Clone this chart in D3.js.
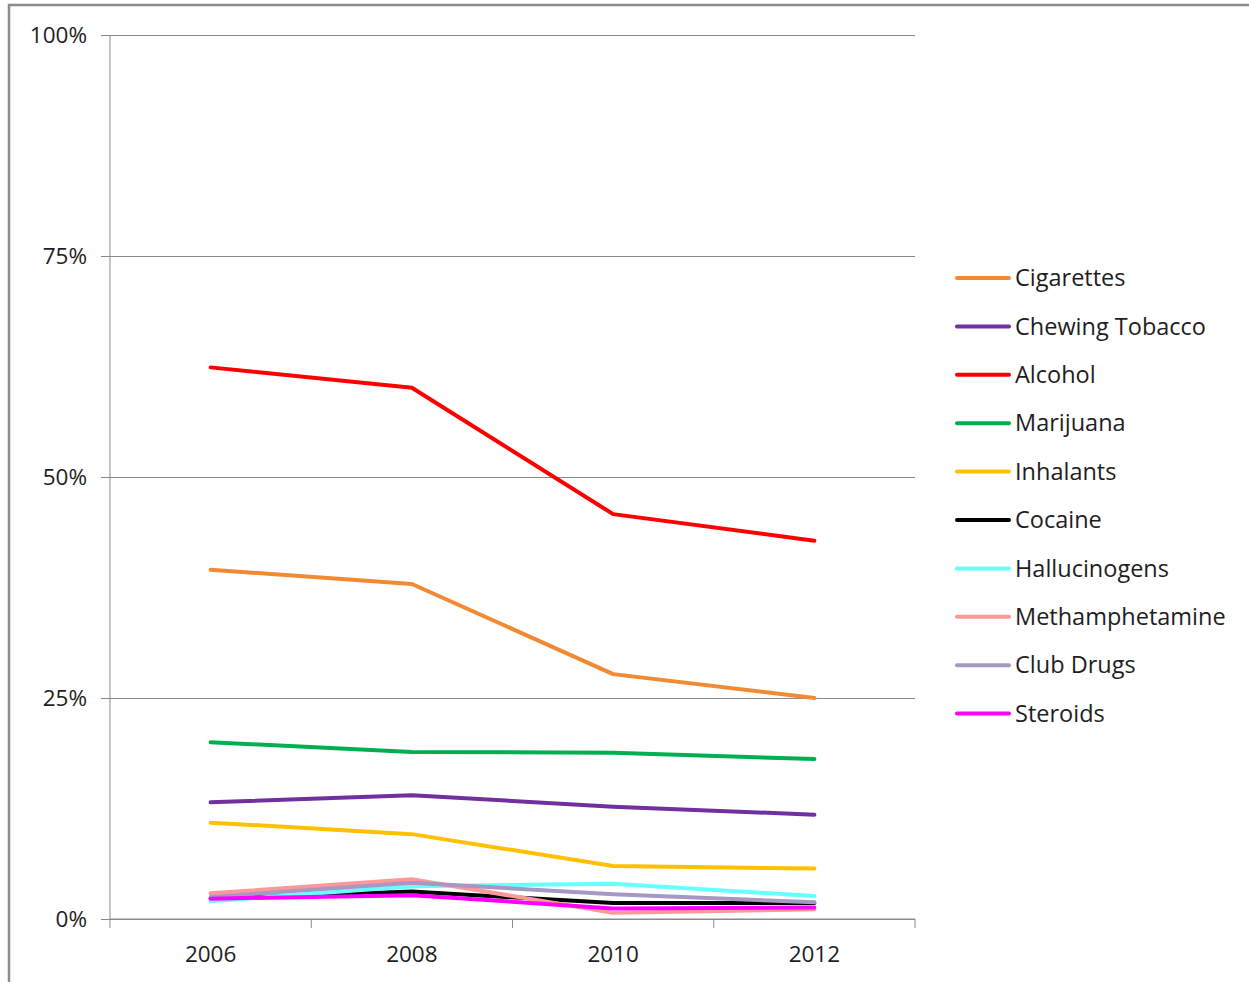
<!DOCTYPE html>
<html>
<head>
<meta charset="utf-8">
<script src="https://cdn.jsdelivr.net/npm/d3@7"></script>
<style>
  html, body { margin: 0; padding: 0; background: #fff; }
  svg { display: block; }
  text { font-family: "Open Sans", Lato, sans-serif; fill: #1e1e1e; }
</style>
</head>
<body>
<svg id="chart" width="1249" height="982"></svg>
<script>
// Survey years
const years = ["2006", "2008", "2010", "2012"];

// Share of respondents reporting use, per substance (percent)
const cigarettes     = [39.5, 37.9, 27.7, 25.0];
const chewingTobacco = [13.2, 14.0, 12.7, 11.8];
const alcohol        = [62.4, 60.1, 45.8, 42.8];
const marijuana      = [20.0, 18.9, 18.8, 18.1];
const inhalants      = [10.9,  9.6,  6.0,  5.7];
const cocaine        = [ 2.3,  3.1,  1.8,  1.8];
const hallucinogens  = [ 2.0,  3.7,  4.0,  2.6];
const meth           = [ 2.9,  4.5,  0.7,  1.1];
const clubDrugs      = [ 2.5,  4.1,  2.8,  1.9];
const steroids       = [ 2.3,  2.7,  1.2,  1.3];

const seriesNames  = ["Cigarettes", "Chewing Tobacco", "Alcohol", "Marijuana", "Inhalants",
                      "Cocaine", "Hallucinogens", "Methamphetamine", "Club Drugs", "Steroids"];
const seriesValues = [cigarettes, chewingTobacco, alcohol, marijuana, inhalants,
                      cocaine, hallucinogens, meth, clubDrugs, steroids];
const seriesColors = ["#F28A33", "#7030A0", "#FF0000", "#00B050", "#FFC000",
                      "#000000", "#66FFFF", "#FF9999", "#A698C2", "#FF00FF"];

const yTicks = [0, 25, 50, 75, 100];

const svg = d3.select("#chart");

// Outer frame
svg.append("rect")
  .attr("x", 9).attr("y", 5)
  .attr("width", 1260).attr("height", 1000)
  .attr("fill", "#fff")
  .attr("stroke", "#8c8c8c").attr("stroke-width", 2.5);

const plot = { left: 110, right: 915, top: 35, bottom: 919 };

const x = d3.scaleBand().domain(years).range([plot.left, plot.right]);
const y = d3.scaleLinear().domain([0, 100]).range([plot.bottom, plot.top]);

// Horizontal gridlines with short outer tick marks
const yAxis = d3.axisLeft(y)
  .tickValues(yTicks)
  .tickSize(-(plot.right - plot.left))
  .tickFormat(d => d + "%");
const gy = svg.append("g").attr("transform", `translate(${plot.left},0)`).call(yAxis);
gy.select(".domain").remove();
gy.selectAll(".tick line").attr("stroke", "#8a8a8a").attr("stroke-width", 1)
  .attr("x1", -9);
gy.selectAll(".tick text").attr("x", -23).attr("dy", "0.35em")
  .style("font-size", "22.5px").style("font-family", "'Open Sans', sans-serif").attr("fill", "#1e1e1e");

// Vertical axis line
svg.append("line")
  .attr("x1", plot.left).attr("x2", plot.left)
  .attr("y1", plot.top).attr("y2", plot.bottom)
  .attr("stroke", "#8a8a8a").attr("stroke-width", 1);

// Category axis: ticks sit on band boundaries, labels at band centres
const gx = svg.append("g").attr("transform", `translate(0,${plot.bottom})`);
gx.append("line")
  .attr("x1", plot.left).attr("x2", plot.right)
  .attr("stroke", "#8a8a8a").attr("stroke-width", 1);
const boundaries = years.map(d => x(d)).concat([x(years[years.length - 1]) + x.bandwidth()]);
gx.selectAll("line.tick").data(boundaries).enter().append("line")
  .attr("class", "tick")
  .attr("x1", d => d).attr("x2", d => d)
  .attr("y1", 0).attr("y2", 9)
  .attr("stroke", "#8a8a8a").attr("stroke-width", 1);
gx.selectAll("text").data(years).enter().append("text")
  .attr("x", d => x(d) + x.bandwidth() / 2)
  .attr("y", 43)
  .attr("text-anchor", "middle")
  .style("font-size", "22.5px")
  .text(d => d);

// Series lines
const line = d3.line()
  .x((d, i) => x(years[i]) + x.bandwidth() / 2)
  .y(d => y(d));

svg.append("g").selectAll("path")
  .data(seriesValues)
  .enter().append("path")
  .attr("d", d => line(d))
  .attr("fill", "none")
  .attr("stroke", (d, i) => seriesColors[i])
  .attr("stroke-width", 4)
  .attr("stroke-linejoin", "round")
  .attr("stroke-linecap", "round");

// Legend
const legend = svg.append("g").attr("transform", "translate(957,278)");
const rowH = 48.4;
const items = legend.selectAll("g").data(seriesNames).enter().append("g")
  .attr("transform", (d, i) => `translate(0,${i * rowH})`);
items.append("line")
  .attr("x1", 0).attr("x2", 52)
  .attr("stroke", (d, i) => seriesColors[i])
  .attr("stroke-width", 4)
  .attr("stroke-linecap", "round");
items.append("text")
  .attr("x", 58).attr("dy", "0.35em")
  .style("font-size", "23.5px")
  .text(d => d);
</script>
</body>
</html>
